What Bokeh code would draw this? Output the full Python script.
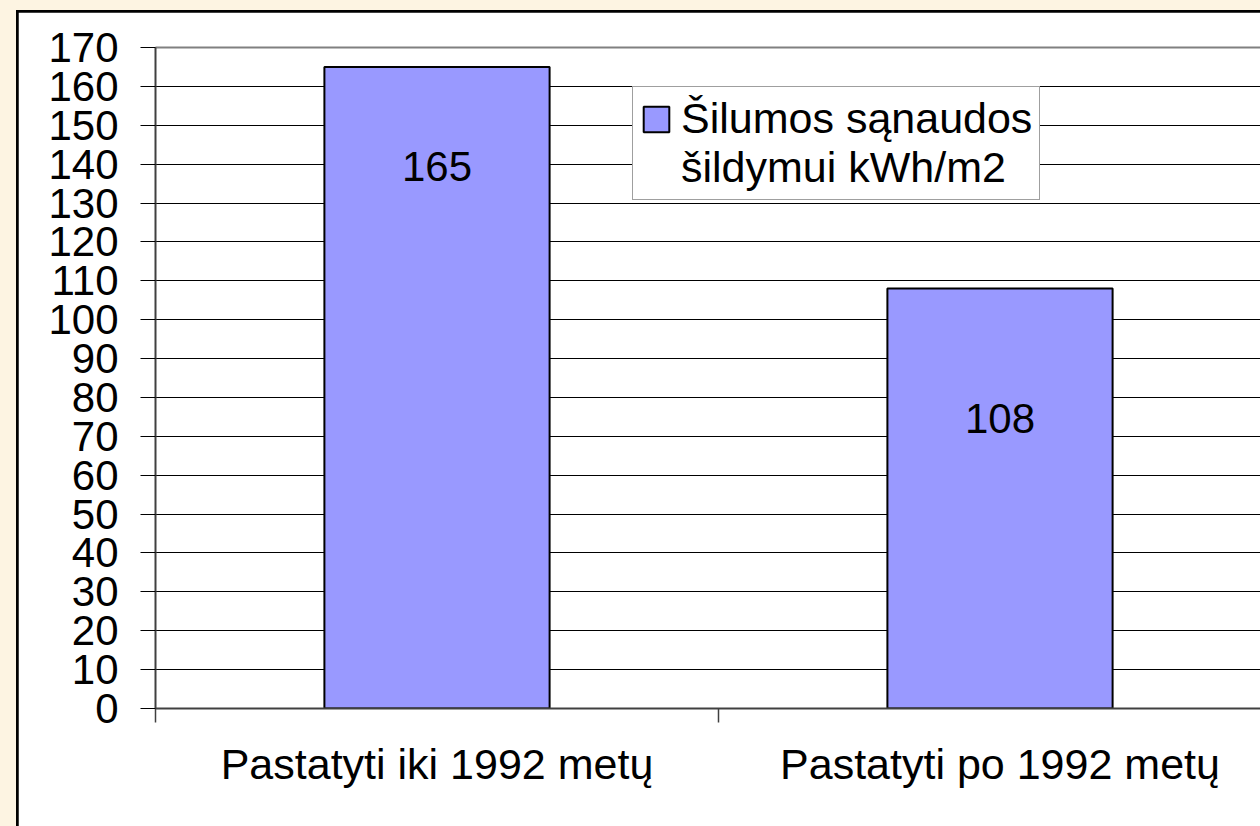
from bokeh.plotting import figure
from bokeh.models import (Range1d, FixedTicker, LinearAxis, Legend, LegendItem,
                          ColumnDataSource)
from bokeh.layouts import column
from bokeh.core.properties import value
from bokeh.embed import file_html
from bokeh.resources import INLINE

# ---- data ----
categories = ["Pastatyti iki 1992 metų", "Pastatyti po 1992 metų"]
heat_use = [165, 108]
series_lines = ["Šilumos sąnaudos", "šildymui kWh/m2"]
y_ticks = list(range(0, 171, 10))

# ---- style ----
FONT = "Liberation Sans"
FS = "42px"
CREAM = "#FDF4E2"
BAR_FILL = "#9999FF"

FIG_W, FIG_H = 1242, 814
LEFT, TOP, BOTTOM = 137, 35, 118
CAT_PX = 563.0
frame_w = FIG_W - LEFT
x_end = frame_w / CAT_PX

p = figure(width=FIG_W, height=FIG_H, output_backend="svg", toolbar_location=None,
           x_range=Range1d(0, x_end), y_range=Range1d(0, y_ticks[-1]),
           min_border_left=LEFT, min_border_top=TOP, min_border_bottom=BOTTOM,
           min_border_right=0)
p.border_fill_color = "white"
p.background_fill_color = "white"
p.outline_line_color = None

centers = [i + 0.5 for i in range(len(categories))]
src = ColumnDataSource(dict(x=centers, top=heat_use, label=[str(v) for v in heat_use],
                            yoff=[100, 130]))

bars = p.vbar(x="x", top="top", bottom=0, width=0.4, source=src,
              fill_color=BAR_FILL, line_color="black", line_width=2)

# invisible renderer used only for the second legend line
blank = p.vbar(x=[], top=[], width=0.4, fill_alpha=0, line_alpha=0)

p.text(x="x", y="top", text="label", source=src, y_offset="yoff",
       text_align="center", text_baseline="middle",
       text_font=value(FONT), text_font_size=FS, text_color="black")

# grid
p.xgrid.grid_line_color = None
p.ygrid.grid_line_color = "black"
p.ygrid.grid_line_width = 1
p.ygrid.ticker = FixedTicker(ticks=y_ticks)

# y axis
ya = p.yaxis[0]
ya.ticker = FixedTicker(ticks=y_ticks, minor_ticks=[])
ya.axis_line_color = "#404040"
ya.axis_line_width = 2
ya.major_tick_out = 15
ya.major_tick_in = 0
ya.major_tick_line_color = "black"
ya.major_tick_line_width = 1
ya.minor_tick_line_color = None
ya.major_label_standoff = 22
ya.major_label_text_font = FONT
ya.major_label_text_font_size = FS
ya.major_label_text_color = "black"

# x axis: ticks at category boundaries, labels at centres
xa = p.xaxis[0]
xa.ticker = FixedTicker(ticks=centers, minor_ticks=list(range(len(categories) + 1)))
xa.major_label_overrides = {c: lab for c, lab in zip(centers, categories)}
xa.axis_line_color = "#404040"
xa.axis_line_width = 2
xa.major_tick_out = 0
xa.major_tick_in = 0
xa.major_tick_line_color = None
xa.minor_tick_out = 14
xa.minor_tick_in = 0
xa.minor_tick_line_color = "#404040"
xa.minor_tick_line_width = 1.5
xa.major_label_standoff = 17
xa.major_label_text_font = FONT
xa.major_label_text_font_size = "43px"
xa.major_label_text_color = "black"

# top border of plot area
top_ax = LinearAxis(ticker=FixedTicker(ticks=[]), axis_line_color="#808080",
                    axis_line_width=2, major_tick_line_color=None,
                    minor_tick_line_color=None, major_label_text_font_size="0px",
                    major_label_standoff=0)
p.add_layout(top_ax, "above")

legend = Legend(items=[LegendItem(label=series_lines[0], renderers=[bars]),
                       LegendItem(label=series_lines[1], renderers=[blank])],
                location=(477, 508), margin=0, padding=7, spacing=0,
                glyph_width=32, glyph_height=32, label_standoff=9,
                label_height=46,
                label_text_font=FONT, label_text_font_size="43px",
                label_text_color="black", border_line_color="#404040",
                border_line_width=1, background_fill_color="white",
                background_fill_alpha=1)
p.add_layout(legend, "center")

inner = column(p, styles={"background-color": "black", "padding": "2px 0 0 2px"})
root = column(inner, styles={"background-color": CREAM, "padding": "10px 0 0 16px",
                             "margin": "0px"})

open("out.html", "w").write(file_html(root, INLINE))
